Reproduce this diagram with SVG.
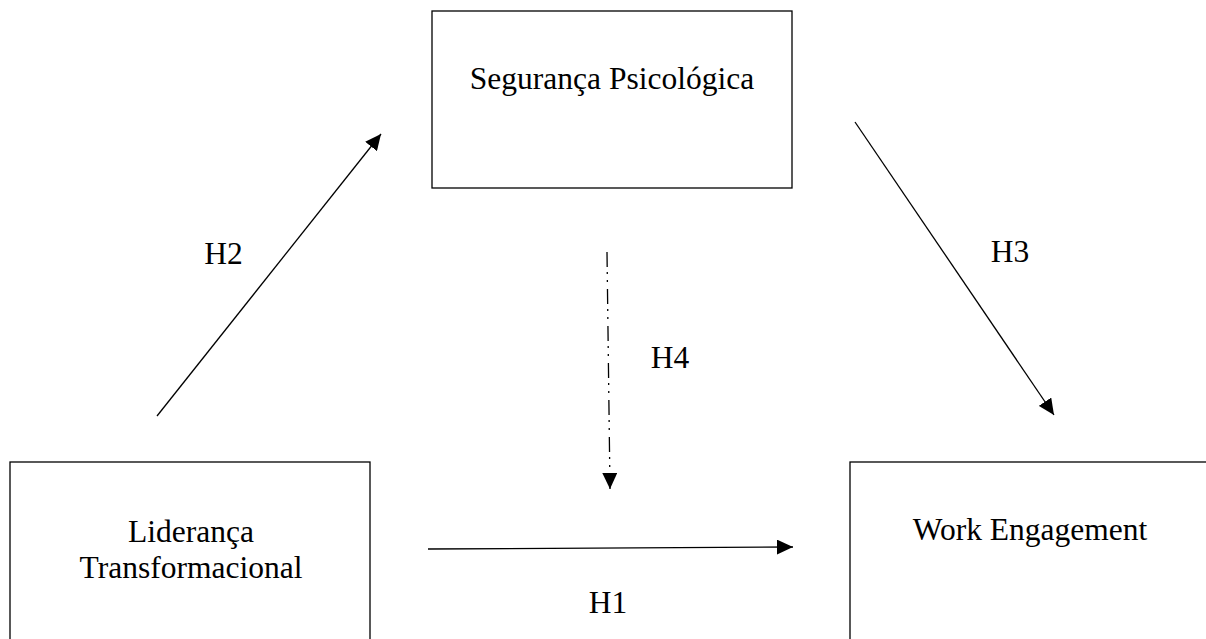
<svg xmlns="http://www.w3.org/2000/svg" width="1206" height="639" viewBox="0 0 1206 639">
<style>
.box{fill:#fff;stroke:#000;stroke-width:1.3}
.t{font-family:"Liberation Serif","Times New Roman",serif;font-size:31.5px;fill:#000}
.c{stroke:#000;stroke-width:1.3;fill:none}
</style>
<defs>
<marker id="ah" markerWidth="16" markerHeight="15" refX="16" refY="7.5" orient="auto" markerUnits="userSpaceOnUse">
<path d="M0,0 L16,7.5 L0,15 Z" fill="#000"/>
</marker>
</defs>
<rect width="1206" height="639" fill="#fff"/>
<g id="seguranca">
<rect class="box" x="432" y="11" width="360" height="177"/>
<text class="t" x="612" y="89" text-anchor="middle">Segurança Psicológica</text>
</g>
<g id="lideranca">
<rect class="box" x="10" y="462" width="360" height="190"/>
<text class="t" x="191" y="542" text-anchor="middle">Liderança</text>
<text class="t" x="191" y="578" text-anchor="middle">Transformacional</text>
</g>
<g id="work">
<rect class="box" x="850" y="462" width="370" height="190"/>
<text class="t" x="1030" y="540" text-anchor="middle">Work Engagement</text>
</g>
<g id="connectors">
<line class="c" x1="157" y1="416" x2="381" y2="134" marker-end="url(#ah)"/>
<line class="c" x1="855" y1="122" x2="1054" y2="415" marker-end="url(#ah)"/>
<line class="c" x1="428" y1="549" x2="793" y2="547" marker-end="url(#ah)"/>
<line class="c" x1="607" y1="252" x2="610" y2="489" stroke-width="1.6" stroke-dasharray="15,5,2,6,2,7" marker-end="url(#ah)"/>
</g>
<g id="labels">
<text class="t" x="223.5" y="264" text-anchor="middle">H2</text>
<text class="t" x="1010" y="262" text-anchor="middle">H3</text>
<text class="t" x="670" y="368" text-anchor="middle">H4</text>
<text class="t" x="608" y="613" text-anchor="middle">H1</text>
</g>
</svg>
